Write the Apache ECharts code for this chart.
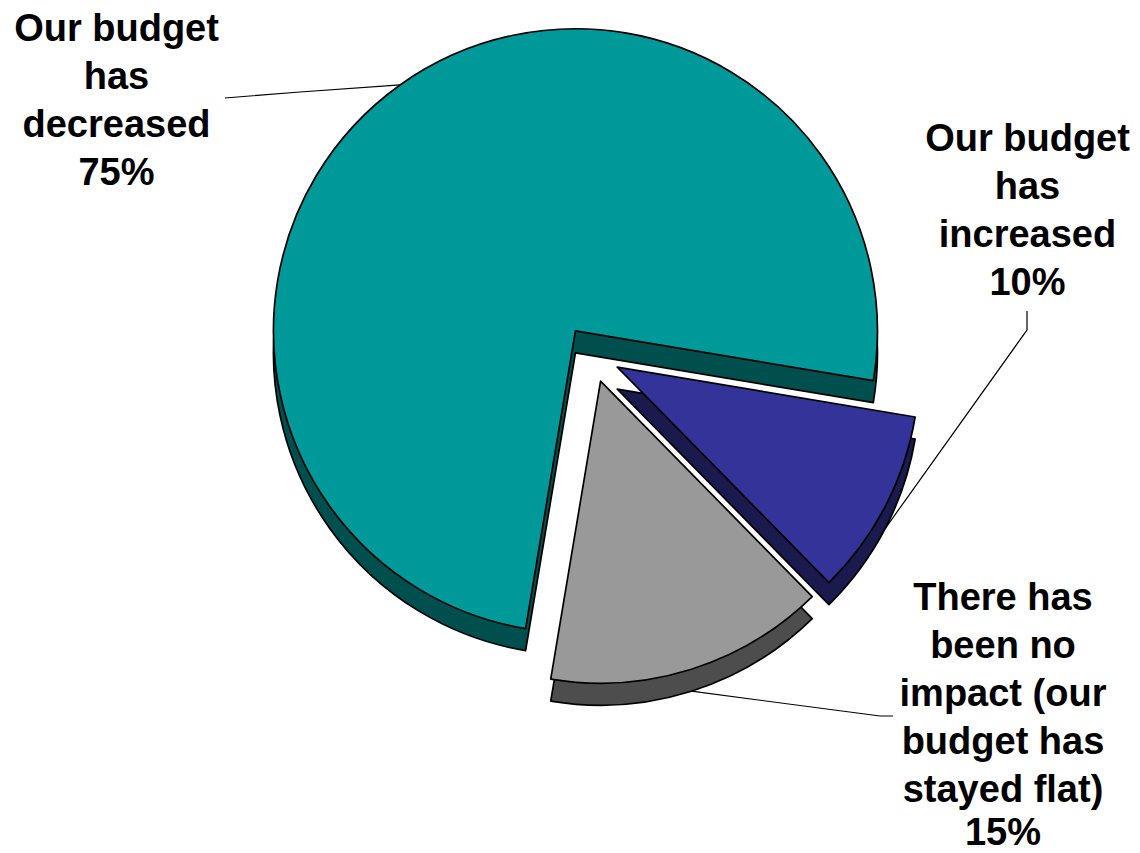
<!DOCTYPE html>
<html>
<head>
<meta charset="utf-8">
<title>Budget impact</title>
<script src="https://cdn.jsdelivr.net/npm/echarts@6/dist/echarts.min.js"></script>
<style>
  html, body { margin: 0; padding: 0; background: #ffffff; }
  #chart { width: 1140px; height: 853px; }
</style>
</head>
<body>
<div id="chart"></div>
<script>
// Survey answers, in clockwise order starting just below 3 o'clock
const categories = [
  'Our budget\nhas\nincreased',
  'There has\nbeen no\nimpact (our\nbudget has\nstayed flat)',
  'Our budget\nhas\ndecreased'
];
const shares = [10, 15, 75];

// Face and side (extrusion) colours per slice
const topColors = ['#333399', '#999999', '#009999'];
const sideColors = ['#1a1a4e', '#4d4d4d', '#004f4f'];

// Pie geometry
const CX = 592, CY = 354;      // pie centre
const R = 302;                 // radius
const EXPLODE = 28.5;          // distance each slice is pulled out
const DEPTH = 22;              // visual thickness of the disc
const START = -9.5;            // echarts startAngle (degrees, counter-clockwise)

// Where each label block is centred and how its leader line bends on the way.
// 'layer' says which copy of the slice the leader line starts from;
// 'tight' gives the value line a shorter line box so it stays on the page.
const labelPlacement = [
  { x: 1027.5, y: 210,  layer: 'side', tight: false, bends: [[1027, 330], [1027, 311]] },
  { x: 1003,   y: 712,  layer: 'side', tight: true,  bends: [[880, 716], [893, 716]] },
  { x: 116.5,  y: 99.5, layer: 'top',  tight: false, bends: [[300, 92], [225, 98]] }
];

const total = shares.reduce((a, b) => a + b, 0);

// mid angle of each slice in screen degrees (clockwise from east)
const midAngles = [];
{
  let acc = -START;
  shares.forEach(v => {
    const a0 = acc;
    acc += v / total * 360;
    midAngles.push((a0 + acc) / 2);
  });
}

const explodeOffsets = midAngles.map(a => {
  const rad = a * Math.PI / 180;
  return [EXPLODE * Math.cos(rad), EXPLODE * Math.sin(rad)];
});

const labelFont = {
  fontFamily: '"Liberation Sans", Arial, sans-serif',
  fontWeight: 'bold',
  fontSize: 38,
  lineHeight: 48,
  color: '#000000'
};

// One pie series per slice and layer; the other slices in it are left
// transparent so that every slice can be pulled out on its own.
function sliceSeries(i, layer) {
  const isSide = layer === 'side';
  const cx = CX + explodeOffsets[i][0];
  const cy = CY + explodeOffsets[i][1] + (isSide ? DEPTH : 0);
  const withLabel = labelPlacement[i].layer === layer;
  return {
    type: 'pie',
    name: layer + '-' + i,
    z: isSide ? 1 : 2,
    silent: true,
    animation: false,
    center: [cx, cy],
    radius: R,
    startAngle: START,
    clockwise: true,
    avoidLabelOverlap: false,
    emphasis: { disabled: true },
    label: Object.assign({
      show: false,
      position: 'outside',
      formatter: function (p) {
        const pct = p.value + '%';
        return p.name + '\n' + (labelPlacement[p.dataIndex].tight ? '{pct|' + pct + '}' : pct);
      },
      align: 'center',
      rich: {
        pct: Object.assign({}, labelFont, { lineHeight: 38 })
      }
    }, labelFont),
    labelLine: {
      show: false,
      length: 10,
      length2: 10,
      lineStyle: { color: '#000000', width: 1.2 }
    },
    labelLayout: function (params) {
      if (params.dataIndex !== i || !withLabel) return {};
      const p = labelPlacement[i];
      let start = params.labelLinePoints && params.labelLinePoints[0];
      if (!start) {
        const rad = midAngles[i] * Math.PI / 180;
        start = [cx + R * Math.cos(rad), cy + R * Math.sin(rad)];
      }
      return {
        x: p.x,
        y: p.y,
        align: 'center',
        verticalAlign: 'middle',
        labelLinePoints: [start].concat(p.bends)
      };
    },
    data: shares.map((v, j) => {
      const own = j === i;
      return {
        name: categories[j],
        value: v,
        itemStyle: own
          ? { color: (isSide ? sideColors : topColors)[j], borderColor: '#000000', borderWidth: 1.7 }
          : { color: 'rgba(0,0,0,0)', borderWidth: 0 },
        label: { show: own && withLabel },
        labelLine: { show: own && withLabel }
      };
    })
  };
}

const series = [];
shares.forEach((_, i) => series.push(sliceSeries(i, 'side')));
shares.forEach((_, i) => series.push(sliceSeries(i, 'top')));

const chart = echarts.init(document.getElementById('chart'), null, { renderer: 'svg' });
chart.setOption({
  backgroundColor: '#ffffff',
  animation: false,
  tooltip: { show: false },
  legend: { show: false },
  series: series
});
</script>
</body>
</html>
